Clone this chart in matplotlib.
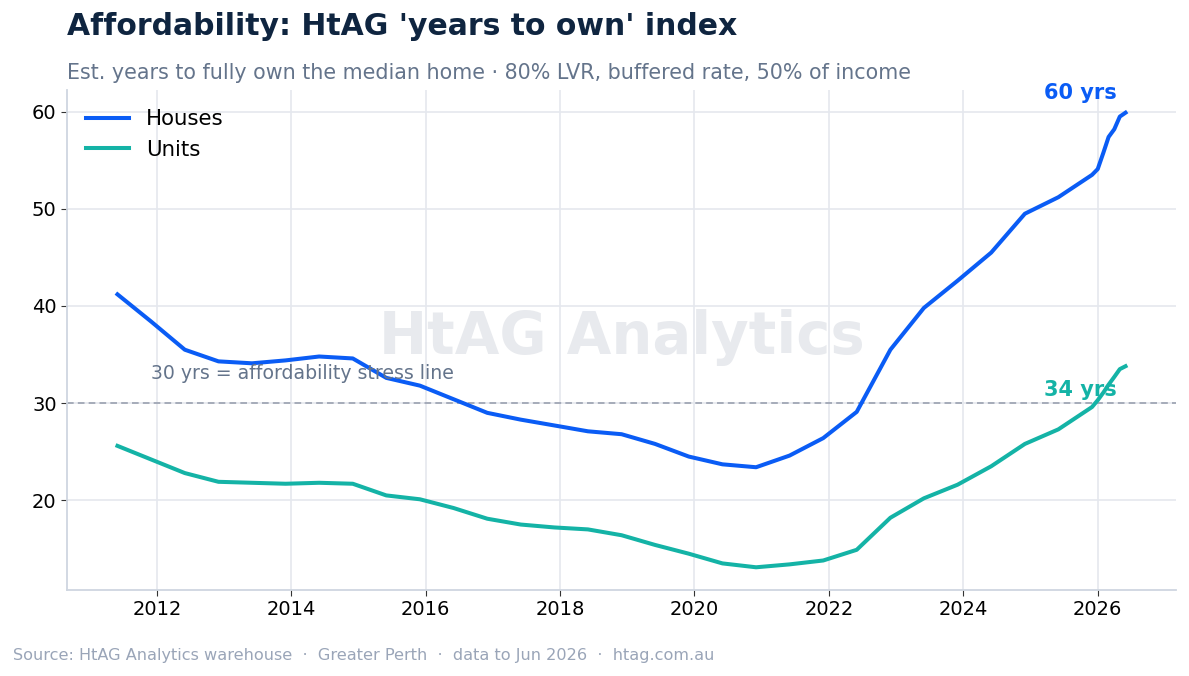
"""HtAG 'years to own' affordability index, Greater Perth."""

import matplotlib
matplotlib.use("Agg")
import matplotlib.dates as mdates
import matplotlib.pyplot as plt
import pandas as pd

# semi-annual to Dec 2025, then monthly to Jun 2026
dates = [
    "2011-06", "2011-12", "2012-06", "2012-12", "2013-06", "2013-12",
    "2014-06", "2014-12", "2015-06", "2015-12", "2016-06", "2016-12",
    "2017-06", "2017-12", "2018-06", "2018-12", "2019-06", "2019-12",
    "2020-06", "2020-12", "2021-06", "2021-12", "2022-06", "2022-12",
    "2023-06", "2023-12", "2024-06", "2024-12", "2025-06", "2025-12",
    "2026-01", "2026-02", "2026-03", "2026-04", "2026-05", "2026-06",
]
houses = [
    41.2, 38.4, 35.5, 34.3, 34.1, 34.4, 34.8, 34.6, 32.6, 31.8, 30.4, 29.0,
    28.3, 27.7, 27.1, 26.8, 25.8, 24.5, 23.7, 23.4, 24.6, 26.4, 29.1, 35.5,
    39.8, 42.6, 45.5, 49.5, 51.2, 53.5, 54.1, 55.8, 57.4, 58.2, 59.5, 59.9,
]
units = [
    25.6, 24.2, 22.8, 21.9, 21.8, 21.7, 21.8, 21.7, 20.5, 20.1, 19.2, 18.1,
    17.5, 17.2, 17.0, 16.4, 15.4, 14.5, 13.5, 13.1, 13.4, 13.8, 14.9, 18.2,
    20.2, 21.6, 23.5, 25.8, 27.3, 29.6, 30.3, 31.1, 31.9, 32.7, 33.5, 33.8,
]
stress_level = 30

HOUSE_C = "#0a5cf5"
UNIT_C  = "#14b3a6"

x = pd.to_datetime(dates)

fig = plt.figure(figsize=(11.89, 6.76), dpi=100)
ax = fig.add_axes([0.0564, 0.1272, 0.9326, 0.7397])

ax.plot(x, houses, color=HOUSE_C, lw=2.9, label="Houses", zorder=3)
ax.plot(x, units, color=UNIT_C, lw=2.9, label="Units", zorder=3)

ax.axhline(stress_level, color="#9aa1b0", lw=1.2, ls=(0, (4, 2.5)), zorder=2)
ax.text(pd.Timestamp("2011-12-01"), stress_level + 3.0,
        "30 yrs = affordability stress line", color="#64748b",
        fontsize=13.6, va="center", ha="left", zorder=4)

# watermark
ax.text(0.5, 0.505, "HtAG Analytics", transform=ax.transAxes,
        fontsize=41.5, fontweight="bold", color="#e8eaee",
        ha="center", va="center", zorder=1)

# end labels
ax.annotate(f"{houses[-1]:.0f} yrs", xy=(x[-1], houses[-1]),
            xytext=(-6, 14), textcoords="offset points",
            ha="right", va="center", color=HOUSE_C,
            fontsize=15, fontweight="bold", zorder=5)
ax.annotate(f"{units[-1]:.0f} yrs", xy=(x[-1], units[-1]),
            xytext=(-6, -17), textcoords="offset points",
            ha="right", va="center", color=UNIT_C,
            fontsize=15, fontweight="bold", zorder=5)

ax.xaxis.set_major_locator(mdates.YearLocator(2))
ax.xaxis.set_major_formatter(mdates.DateFormatter("%Y"))
ax.set_yticks([20, 30, 40, 50, 60])

ax.grid(True, color="#e5e8ee", lw=1.2, zorder=0)
ax.set_axisbelow(True)
for s in ("top", "right"):
    ax.spines[s].set_visible(False)
for s in ("left", "bottom"):
    ax.spines[s].set_color("#cfd6e0")
    ax.spines[s].set_linewidth(1.3)
ax.tick_params(labelsize=14, length=4, color="#333333", labelcolor="black")

leg = ax.legend(loc="upper left", frameon=False, fontsize=15.3,
                handlelength=2.0, borderaxespad=0.5)

fig.text(0.0564, 0.9615, "Affordability: HtAG 'years to own' index",
         fontsize=21.5, fontweight="bold", color="#0f2540", va="center")
fig.text(0.0564, 0.892,
         "Est. years to fully own the median home \u00b7 80% LVR, buffered rate, 50% of income",
         fontsize=14.9, color="#64748b", va="center")
fig.text(0.011, 0.031,
         "Source: HtAG Analytics warehouse  \u00b7  Greater Perth  \u00b7  data to Jun 2026  \u00b7  htag.com.au",
         fontsize=11.6, color="#9aa5b8", va="center")

fig.savefig("out.png", dpi=100)
